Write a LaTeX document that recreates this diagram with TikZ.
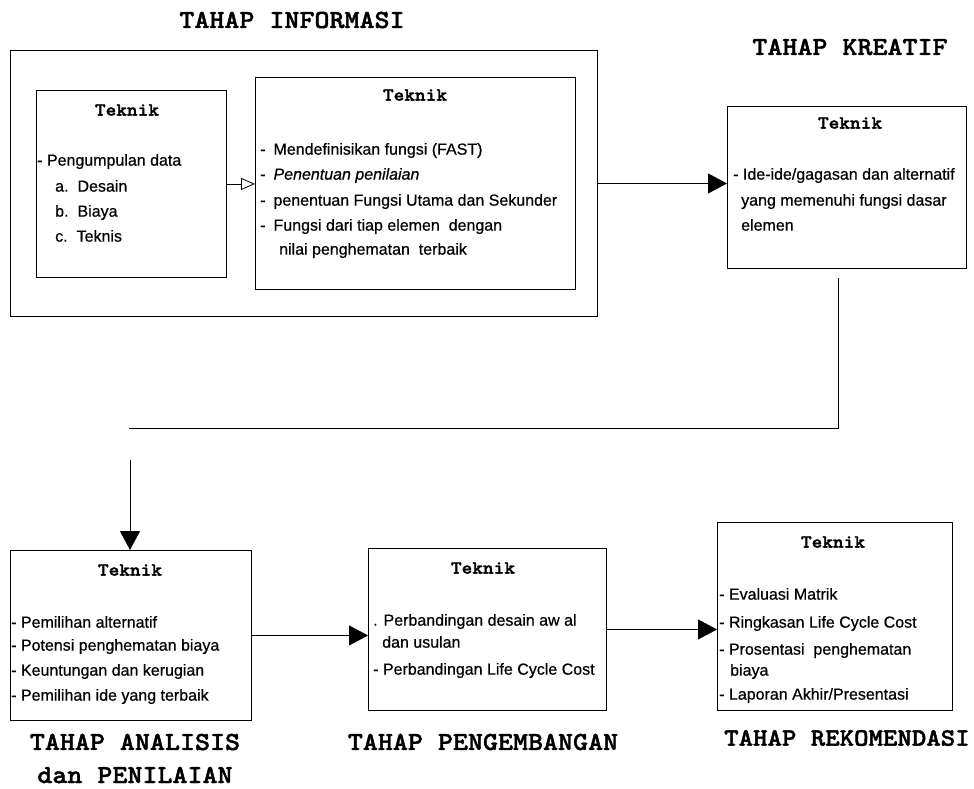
\documentclass[tikz,border=0pt]{standalone}
\usepackage{fontspec}
\setmainfont{Liberation Sans}[FakeBold=0.6]
\newfontfamily\monofont{lmmonolt10-bold.otf}[FakeBold=1.6,FakeStretch=1.1]
\usetikzlibrary{arrows.meta}
\begin{document}
\begin{tikzpicture}[x=1pt,y=-1pt,
  box/.style={draw,line width=0.9pt,anchor=north west,inner sep=0pt},
  ttl/.style={font=\monofont\fontsize{26}{28}\selectfont,inner sep=0pt},
  tk/.style={font=\monofont\fontsize{18.5}{20}\selectfont,inner sep=0pt},
  itm/.style={font=\fontsize{16}{18}\selectfont,anchor=mid west,inner sep=0pt},
  conn/.style={line width=0.9pt},
  arr/.style={line width=0.9pt,-{Triangle[length=19pt,width=20pt]}},
  harr/.style={line width=0.8pt,-{Triangle[open,length=14pt,width=12pt]}}]
\fill[white] (0,0) rectangle (974,788);
\useasboundingbox (0,0) rectangle (974,788);

% ---------- TAHAP INFORMASI ----------
\node[ttl] (tInfo) at (292,20) {TAHAP INFORMASI};
\node[box,minimum width=587pt,minimum height=266pt] (info) at (10,50) {};
\node[box,minimum width=190pt,minimum height=187pt] (infoL) at (36,90) {};
\node[box,minimum width=320pt,minimum height=212pt] (infoR) at (255,77) {};

\node[tk] (tkL) at (127,110) {Teknik};
\node[itm] (l1) at (37,163) {- Pengumpulan data};
\node[itm] (l2) at (55,189) {a.\hspace{9pt}Desain};
\node[itm] (l3) at (55,214) {b.\hspace{9pt}Biaya};
\node[itm] (l4) at (55,239) {c.\hspace{9pt}Teknis};

\node[tk] (tkR) at (415,95) {Teknik};
\node[itm] (r1) at (260,152) {-\hspace{8pt}Mendefinisikan fungsi (FAST)};
\node[itm] (r2) at (260,177) {-\hspace{8pt}\itshape Penentuan penilaian};
\node[itm] (r3) at (260,203) {-\hspace{8pt}penentuan Fungsi Utama dan Sekunder};
\node[itm] (r4) at (260,228) {-\hspace{8pt}Fungsi dari tiap elemen\ \ dengan};
\node[itm] (r5) at (279,252) {nilai penghematan\ \ terbaik};

\draw[harr] (infoL.east) -- (infoL.east -| infoR.west);

% ---------- TAHAP KREATIF ----------
\node[ttl] (tKre) at (850,47) {TAHAP KREATIF};
\node[box,minimum width=239pt,minimum height=162pt] (kre) at (727,106) {};
\node[tk] (tkK) at (850,123) {Teknik};
\node[itm] (k1) at (733,177) {- Ide-ide/gagasan dan alternatif};
\node[itm] (k2) at (741,203) {yang memenuhi fungsi dasar};
\node[itm] (k3) at (741,228) {elemen};

\draw[arr] (info.east) -- (info.east -| kre.west);

% ---------- connector down ----------
\coordinate (c0) at (838,278);
\coordinate (c1) at (838,428);
\coordinate (c2) at (129,428);
\coordinate (c3) at (130,460);

% ---------- TAHAP ANALISIS ----------
\node[box,minimum width=241pt,minimum height=170pt] (ana) at (10,550) {};
\node[tk] (tkA) at (130,570) {Teknik};
\node[itm] (a1) at (11,625) {- Pemilihan alternatif};
\node[itm] (a2) at (11,648) {- Potensi penghematan biaya};
\node[itm] (a3) at (11,673) {- Keuntungan dan kerugian};
\node[itm] (a4) at (11,698) {- Pemilihan ide yang terbaik};
\node[ttl] (tAna1) at (135,742) {TAHAP ANALISIS};
\node[ttl] (tAna2) at (135,775) {dan PENILAIAN};

\draw[conn] (c0) -- (c1) -- (c2);
\draw[arr] (c3) -- (c3 |- ana.north);

% ---------- TAHAP PENGEMBANGAN ----------
\node[box,minimum width=238pt,minimum height=162pt] (peng) at (368,548) {};
\node[tk] (tkP) at (483,568) {Teknik};
\node[itm] (p1) at (373,623) {. Perbandingan desain aw al};
\node[itm] (p2) at (382,645) {dan usulan};
\node[itm] (p3) at (373,672) {- Perbandingan Life Cycle Cost};
\node[ttl] (tPeng) at (483,742) {TAHAP PENGEMBANGAN};

\draw[arr] (ana.east) -- (ana.east -| peng.west);

% ---------- TAHAP REKOMENDASI ----------
\node[box,minimum width=235pt,minimum height=188pt] (rek) at (717,522) {};
\node[tk] (tkRk) at (833,542) {Teknik};
\node[itm] (e1) at (719,597) {- Evaluasi Matrik};
\node[itm] (e2) at (719,625) {- Ringkasan Life Cycle Cost};
\node[itm] (e3) at (719,652) {- Prosentasi\ \ penghematan};
\node[itm] (e4) at (730,673) {biaya};
\node[itm] (e5) at (719,697) {- Laporan Akhir/Presentasi};
\node[ttl,font=\monofont\fontsize{25}{27}\selectfont,anchor=west] (tRek) at (724,738) {TAHAP REKOMENDASI};

\draw[arr] (peng.east) -- (peng.east -| rek.west);
\end{tikzpicture}
\end{document}
